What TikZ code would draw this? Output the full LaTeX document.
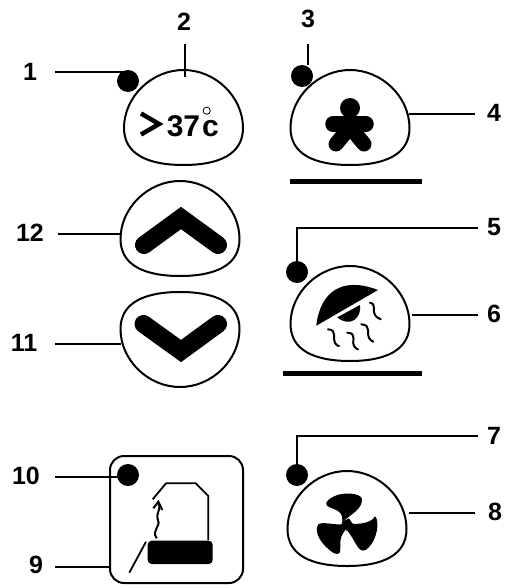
\documentclass[tikz,border=0pt]{standalone}
\usepackage{fontspec}
\setmainfont{Liberation Sans}
\tikzset{
  num/.style={font=\fontsize{25}{25}\selectfont\bfseries,inner sep=0pt},
  leader/.style={line width=2pt},
  outline/.style={line width=2pt},
  dot/.style={circle,fill=black,minimum size=22pt,inner sep=0pt},
  shelf/.style={line width=5pt},
  squiggle/.style={line width=2pt,line cap=round},
  blade/.style={fill=black,draw=black,line width=2pt,line join=round},
  reading/.style={inner sep=0pt,anchor=base,font=\fontsize{30}{30}\selectfont\bfseries},
  dome/.pic={\draw[outline] (0,0) .. controls (32,0) and (59.5,27) .. (59.5,58) .. controls (59.5,84) and (36,95) .. (0,95) .. controls (-36,95) and (-59.5,84) .. (-59.5,58) .. controls (-59.5,27) and (-32,0) .. (0,0) -- cycle;}
}
\begin{document}
\begin{tikzpicture}[x=1pt,y=-1pt]
\useasboundingbox (0,0) rectangle (508,588);
\pic at (183.5,70) {dome}; \pic at (350,70) {dome}; \pic at (180,181) {dome}; \pic[yscale=-1] at (180,387) {dome}; \pic at (350,266) {dome}; \pic at (347,471) {dome};
\draw[outline,rounded corners=14pt] (110,456) rectangle (243,583);
\node[dot] (dot1) at (128,81) {}; \node[dot] (dot3) at (302,76) {}; \node[dot] (dot5) at (297,272) {}; \node[dot] (dot7) at (297,475) {}; \node[dot] (dot10) at (128,475) {};
\node[num] (lab1) at (30,72) {1}; \node[num] (lab2) at (184,22) {2}; \node[num] (lab3) at (308,19) {3}; \node[num] (lab4) at (494,113) {4}; \node[num] (lab5) at (494,227) {5}; \node[num] (lab6) at (494,314) {6};
\node[num] (lab7) at (494,436) {7}; \node[num] (lab8) at (495,512) {8}; \node[num] (lab9) at (36,565) {9}; \node[num] (lab10) at (26,476) {10}; \node[num] (lab11) at (24,343) {11}; \node[num] (lab12) at (30,233) {12};
\coordinate (a1) at (55,72); \coordinate (a2) at (185,44); \coordinate (b2) at (185,77); \coordinate (a3) at (308,44); \coordinate (a4) at (475,114); \coordinate (b4) at (409,114);
\coordinate (a5) at (478,228); \coordinate (a6) at (478,315); \coordinate (b6) at (412,315); \coordinate (a7) at (478,436); \coordinate (a8) at (475,513); \coordinate (b8) at (409,513);
\coordinate (a9) at (55,567); \coordinate (b9) at (110,567); \coordinate (a10) at (55,477); \coordinate (a11) at (55,344); \coordinate (b11) at (121,344); \coordinate (a12) at (58,234); \coordinate (b12) at (122,234);
\draw[leader] (a1) -- (a1 -| dot1); \draw[leader] (a2) -- (b2); \draw[leader] (a3) -- (dot3.north -| a3); \draw[leader] (a4) -- (b4);
\draw[leader] (a5) -- (a5 -| dot5) -- (dot5); \draw[leader] (a6) -- (b6); \draw[leader] (a7) -- (a7 -| dot7) -- (dot7); \draw[leader] (a8) -- (b8);
\draw[leader] (a9) -- (b9); \draw[leader] (a10) -- (a10 -| dot10); \draw[leader] (a11) -- (b11); \draw[leader] (a12) -- (b12);
\draw[line width=4.5pt,miter limit=10] (141,113.5) -- (159,124) -- (141,134.5);
\node[reading] (temp) at (183.5,137) {37};
\node[reading] (unit) at (210.5,137) {c};
\draw[line width=.8pt] (206.7,110.7) circle (3.6);
\draw[line width=18pt,line cap=round,miter limit=10] (144,245) -- (181,218) -- (218,245);
\draw[line width=18pt,line cap=round,miter limit=10] (143.5,324) -- (181,351) -- (218,324);
\fill (350,108) circle (10);
\draw[line width=15.5pt,line cap=round] (333,124) -- (366,124);
\draw[line width=15pt,line cap=round] (336,144) -- (350,127) -- (364,144);
\draw[shelf] (290,181.7) -- (421.7,181.7); \draw[shelf] (283.3,373.3) -- (421.7,373.3);
\fill (316.3,325.7) .. controls (320,292) and (342,276) .. (378,290) -- cycle;
\fill (337.3,317.3) -- (360,305) .. controls (362,318) and (350,328) .. (337.3,317.3) -- cycle;
\draw[squiggle] (370,302.7) .. controls (377,304) and (372,312) .. (375,315) .. controls (377,318) and (379,318) .. (380.7,319.3);
\draw[squiggle] (361.3,324.3) .. controls (372,325) and (366,334) .. (369,338) .. controls (370,340) and (372,341) .. (373.3,341.7);
\draw[squiggle] (347.3,332.7) .. controls (358,333) and (351,343) .. (354,346) .. controls (355,348) and (357,349) .. (358,349.3);
\draw[squiggle] (328,329.3) .. controls (338,330) and (332,339) .. (335,343) .. controls (336,345) and (338,346) .. (339,346);
\begin{scope}[shift={(254,410)},x=1/3*1pt,y=-1/3*1pt]
\path[blade] (268,345) -- (268,330) .. controls (290,310) and (322,295) .. (321,268) .. controls (319,253) and (270,248) .. (243,261) .. controls (228,268) and (215,278) .. (221,285) .. controls (231,294) and (270,295) .. (268,330) -- cycle;
\path[blade] (280,335) -- (298,345) .. controls (325,345) and (357,338) .. (363,323) .. controls (372,338) and (367,385) .. (342,410) .. controls (332,422) and (322,422) .. (313,408) .. controls (303,393) and (293,370) .. (278,355) -- cycle;
\path[blade] (275,340) -- (262,346) .. controls (240,348) and (208,338) .. (195,345) .. controls (183,365) and (203,398) .. (228,417) .. controls (240,429) and (252,432) .. (255,425) .. controls (259,410) and (248,385) .. (272,358) -- cycle;
\fill (265,335) -- (285,325) -- (300,348) -- (278,362) -- (262,348) -- cycle;
\end{scope}
\draw[line width=1.8pt] (152.7,499.3) -- (166,483.3) -- (195.7,483.3) -- (208.3,496) -- (208.3,540);
\fill[rounded corners=4pt] (147.7,540.7) rectangle (212.7,564);
\draw[line width=1.8pt] (146,541.7) -- (129.3,572.7);
\draw[line width=2pt] (156.7,538.3) .. controls (151,530) and (161,527) .. (158,520) .. controls (155,513) and (162,510) .. (158.3,503);
\draw[line width=2pt] (153.3,508.3) -- (158.3,501.7) -- (162.3,510);
\end{tikzpicture}
\end{document}
